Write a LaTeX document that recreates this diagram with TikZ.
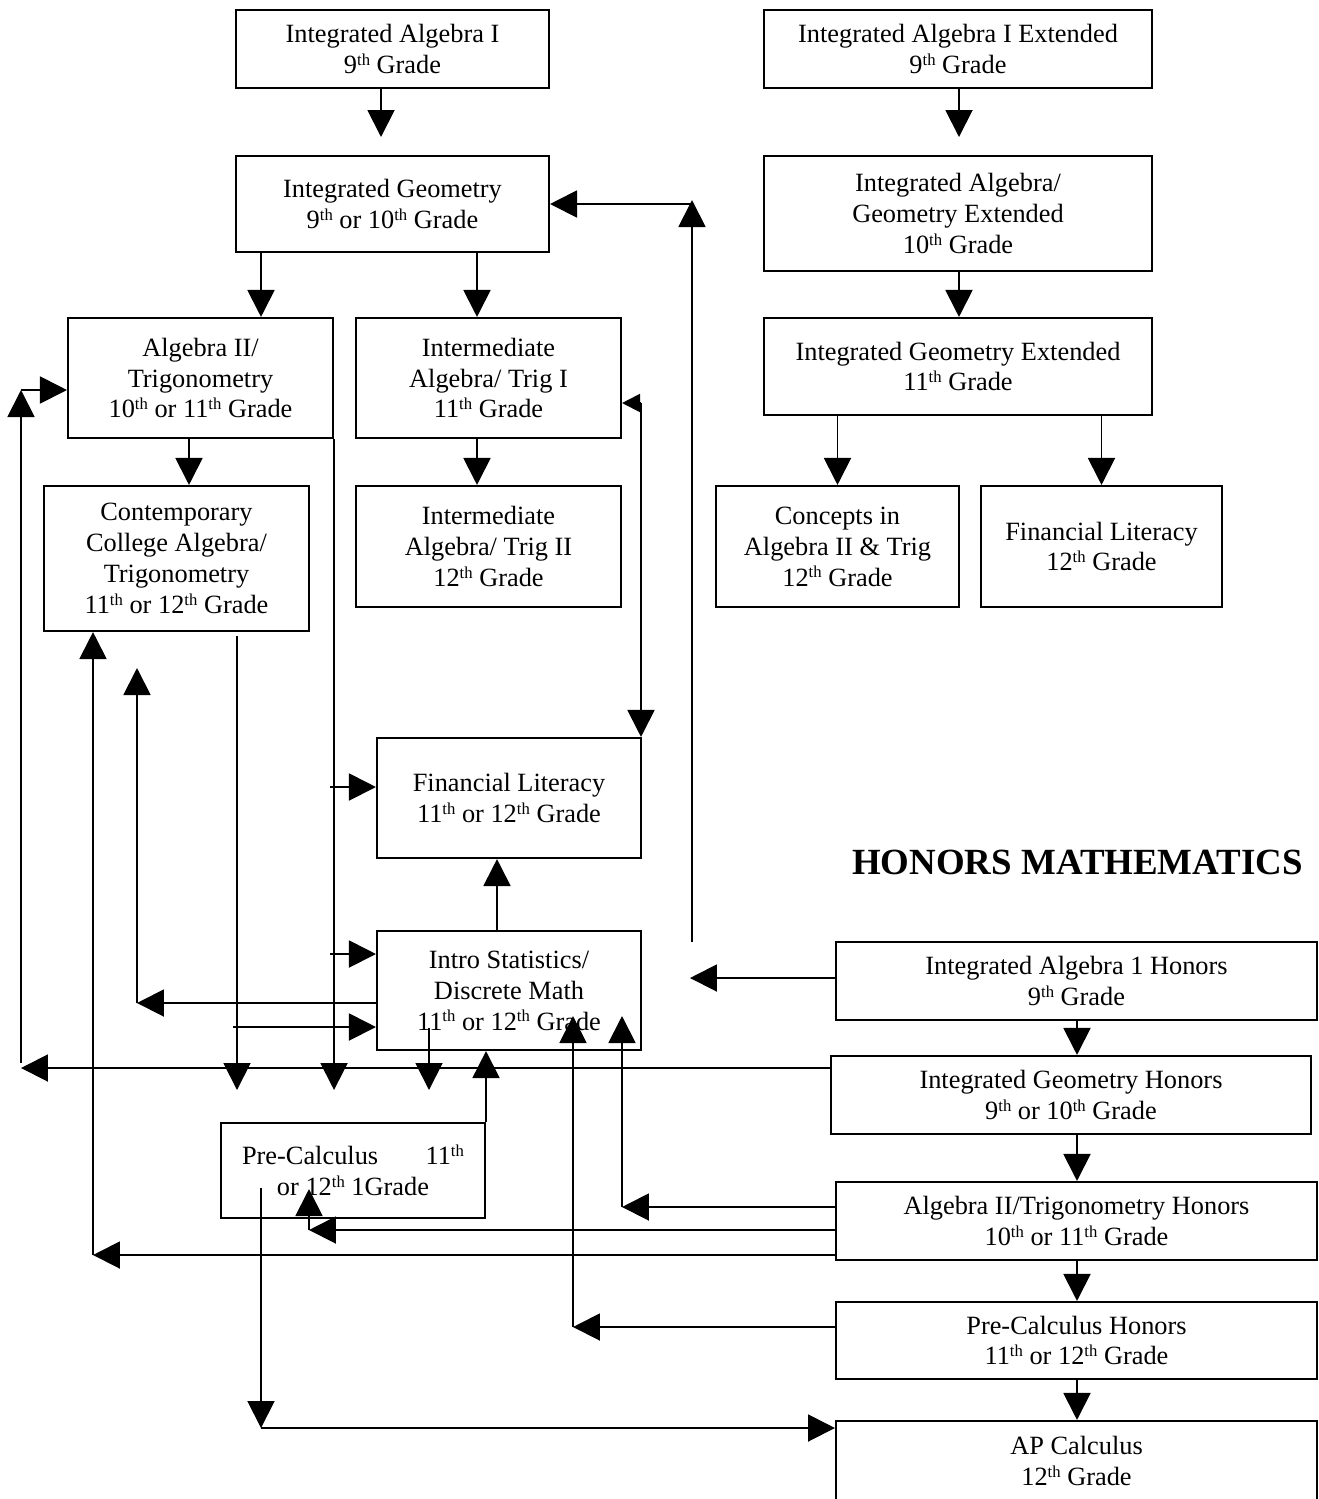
\documentclass[tikz,border=0pt]{standalone}
\usepackage{fontspec}
\setmainfont{Liberation Serif}
\usetikzlibrary{arrows.meta,positioning}
\newcommand{\thsup}{\raisebox{4.8pt}{\fontsize{9.5}{10}\selectfont th}}

\begin{document}
\begin{tikzpicture}[x=0.02cm, y=-0.02cm]
      \tikzstyle{course} = [rectangle, draw, line width=1.2pt, align=center, inner sep=0pt, font=\fontsize{15}{17.6}\selectfont]
      \tikzstyle{flow} = [line width=1.1pt, -{Triangle[length=0.54cm, width=0.54cm]}]
      \tikzstyle{stub} = [line width=1.1pt, -{Triangle[length=0.36cm, width=0.36cm]}]

      \useasboundingbox (0,0) rectangle (1319,1499);

      % regular track
      \node[course, minimum width=6.26cm, minimum height=1.56cm] (ia1) at (392.5,49) {Integrated Algebra I\\9\thsup{} Grade};
      \node[course, minimum width=6.26cm, minimum height=1.92cm] (geo) at (392.5,204) {Integrated Geometry\\9\thsup{} or 10\thsup{} Grade};
      \node[course, minimum width=5.30cm, minimum height=2.40cm] (alg2) at (200.5,378) {Algebra II/\\Trigonometry\\10\thsup{} or 11\thsup{} Grade};
      \node[course, minimum width=5.30cm, minimum height=2.40cm] (iat1) at (488.5,378) {Intermediate\\Algebra/ Trig I\\11\thsup{} Grade};
      \node[course, minimum width=5.30cm, minimum height=2.42cm] (iat2) at (488.5,546.5) {Intermediate\\Algebra/ Trig II\\12\thsup{} Grade};
      \node[course, minimum width=5.30cm, minimum height=2.90cm] (ccat) at (176.5,558.5) {Contemporary\\College Algebra/\\Trigonometry\\11\thsup{} or 12\thsup{} Grade};
      \node[course, minimum width=5.28cm, minimum height=2.40cm] (finlit) at (509,798) {Financial Literacy\\11\thsup{} or 12\thsup{} Grade};
      \node[course, minimum width=5.28cm, minimum height=2.38cm] (stats) at (509,990.5) {Intro Statistics/\\Discrete Math\\11\thsup{} or 12\thsup{} Grade};
      \node[course, minimum width=5.28cm, minimum height=1.90cm] (precalc) at (353,1170.5) {Pre-Calculus\hspace{1.8em}11\thsup\\or 12\thsup{} 1Grade};

      % extended track
      \node[course, minimum width=7.76cm, minimum height=1.56cm] (iae) at (958,49) {Integrated Algebra I Extended\\9\thsup{} Grade};
      \node[course, minimum width=7.76cm, minimum height=2.30cm] (iage) at (958,213.5) {Integrated Algebra/\\Geometry Extended\\10\thsup{} Grade};
      \node[course, minimum width=7.76cm, minimum height=1.94cm] (ige) at (958,366.5) {Integrated Geometry Extended\\11\thsup{} Grade};
      \node[course, minimum width=4.86cm, minimum height=2.42cm] (cia) at (837.5,546.5) {Concepts in\\Algebra II \& Trig\\12\thsup{} Grade};
      \node[course, minimum width=4.82cm, minimum height=2.42cm] (fl12) at (1101.5,546.5) {Financial Literacy\\12\thsup{} Grade};

      % honors track
      \node[font=\fontsize{21}{25}\selectfont\bfseries] (honors) at (1077.5,862) {HONORS MATHEMATICS};
      \node[course, minimum width=9.62cm, minimum height=1.56cm] (ia1h) at (1076.5,981) {Integrated Algebra 1 Honors\\9\thsup{} Grade};
      \node[course, minimum width=9.60cm, minimum height=1.56cm] (igh) at (1071,1095) {Integrated Geometry Honors\\9\thsup{} or 10\thsup{} Grade};
      \node[course, minimum width=9.62cm, minimum height=1.56cm] (a2h) at (1076.5,1221) {Algebra II/Trigonometry Honors\\10\thsup{} or 11\thsup{} Grade};
      \node[course, minimum width=9.62cm, minimum height=1.54cm] (pch) at (1076.5,1340.5) {Pre-Calculus Honors\\11\thsup{} or 12\thsup{} Grade};
      \node[course, minimum width=9.62cm, minimum height=1.60cm] (apc) at (1076.5,1461) {AP Calculus\\12\thsup{} Grade};

      % columns and bends
      \coordinate (k1) at (381,137);
      \coordinate (k2) at (959,137);
      \coordinate (k3) at (261,0);
      \coordinate (k4) at (477,0);
      \coordinate (k5) at (189,0);
      \coordinate (k6) at (497,0);
      \coordinate (k7) at (1077,0);
      \coordinate (r1) at (641,403);
      \coordinate (u1) at (692,942);
      \coordinate (u2) at (692,200);
      \coordinate (h1) at (690,978);
      \coordinate (h2) at (21,1068);
      \coordinate (v1) at (21,1063);
      \coordinate (v2) at (21,390);
      \coordinate (h3) at (622,1207);
      \coordinate (v3) at (622,1016);
      \coordinate (h4) at (309,1230);
      \coordinate (v4) at (309,1189);
      \coordinate (h5) at (93,1255);
      \coordinate (h6) at (573,1327);
      \coordinate (v6) at (573,1016);
      \coordinate (p1) at (261,1188);
      \coordinate (p2) at (261,1428);
      \coordinate (d1) at (237,636);
      \coordinate (d2) at (237,1090);
      \coordinate (d3) at (429,1028);
      \coordinate (f1) at (330,787);
      \coordinate (f2) at (330,954);
      \coordinate (f3) at (233,1027);
      \coordinate (f4) at (137,1003);
      \coordinate (f5) at (137,668);

      \draw[flow] (ia1.south -| k1) -- (k1);
      \draw[flow] (geo.south -| k3) -- (alg2.north -| k3);
      \draw[flow] (geo.south -| k4) -- (iat1.north -| k4);
      \draw[flow] (alg2.south -| k5) -- (ccat.north -| k5);
      \draw[flow] (iat1.south -| k4) -- (iat2.north -| k4);
      \draw[stub] (r1) -- (iat1.east |- r1);
      \draw[flow] (r1) -- (r1 |- finlit.north);

      \draw[flow] (iae.south -| k2) -- (k2);
      \draw[flow] (iage.south -| k2) -- (ige.north -| k2);
      \draw[flow] (ige.south -| cia.north) -- (cia.north);
      \draw[flow] (ige.south -| fl12.north) -- (fl12.north);

      \draw[flow] (u1) -- (u2);
      \draw[flow] (u2 |- geo.east) -- (geo.east);
      \draw[flow] (ia1h.west |- h1) -- (h1);
      \draw[flow] (igh.west |- h2) -- (h2);
      \draw[flow] (v1) -- (v2);
      \draw[flow] (v2) -- (alg2.west |- v2);
      \draw[flow] (a2h.west |- h3) -- (h3);
      \draw[flow] (h3) -- (v3);
      \draw[flow] (a2h.west |- h4) -- (h4);
      \draw[flow] (h4) -- (v4);
      \draw[flow] (a2h.west |- h5) -- (h5);
      \draw[flow] (h5) -- (ccat.south -| h5);
      \draw[flow] (pch.west |- h6) -- (h6);
      \draw[flow] (h6) -- (v6);
      \draw[flow] (p1) -- (p2);
      \draw[flow] (p2) -- (apc.west |- p2);

      \draw[flow] (d1) -- (d2);
      \draw[flow] (alg2.south east) -- (alg2.south east |- d2);
      \draw[flow] (d3) -- (d3 |- d2);
      \draw[flow] (f1) -- (finlit.west |- f1);
      \draw[flow] (f2) -- (stats.west |- f2);
      \draw[flow] (f3) -- (stats.west |- f3);
      \draw[flow] (stats.west |- f4) -- (f4);
      \draw[flow] (f4) -- (f5);
      \draw[flow] (stats.north -| k6) -- (finlit.south -| k6);
      \draw[flow] (precalc.north east) -- (stats.south -| precalc.north east);

      \draw[flow] (ia1h.south -| k7) -- (igh.north -| k7);
      \draw[flow] (igh.south -| k7) -- (a2h.north -| k7);
      \draw[flow] (a2h.south -| k7) -- (pch.north -| k7);
      \draw[flow] (pch.south -| k7) -- (apc.north -| k7);
    \end{tikzpicture}
\end{document}
